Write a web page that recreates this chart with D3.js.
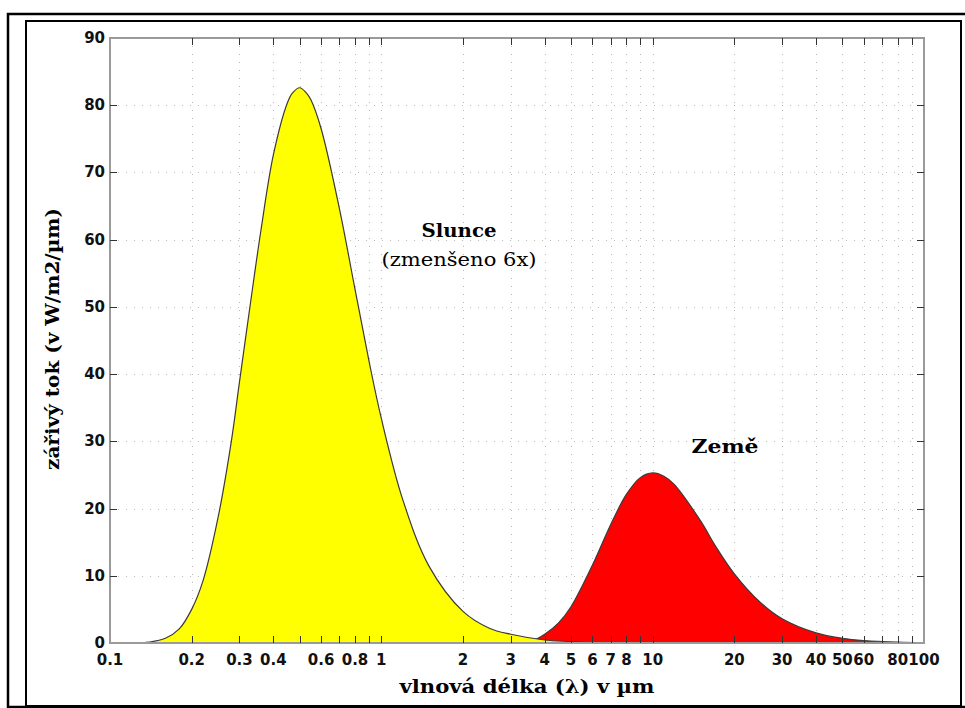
<!DOCTYPE html>
<html>
<head>
<meta charset="utf-8">
<script src="https://cdn.jsdelivr.net/npm/d3@7"></script>
<style>
body { margin: 0; background: #fff; }
svg { display: block; }
</style>
</head>
<body>
<div id="chart"></div>
<script>
// values (flux in W/m2/um, sun already divided by 6)
var sunWavelength = [0.12, 0.14, 0.16, 0.18, 0.2, 0.22, 0.25, 0.28, 0.3, 0.33, 0.36, 0.4, 0.45, 0.47, 0.5, 0.53, 0.55, 0.6, 0.7, 0.8, 0.9, 1.0, 1.2, 1.5, 2, 2.5, 3, 4, 5, 6];
var sunFlux = [0, 0.15, 0.7, 2.1, 5.0, 9.2, 18.6, 30, 38.8, 50.8, 61.4, 72.6, 80.3, 81.8, 82.6, 81.8, 80.8, 76.5, 64.7, 52.6, 42, 33.4, 21.3, 11.4, 4.7, 2.2, 1.3, 0.45, 0.2, 0];
var earthWavelength = [3.3, 3.6, 4, 4.5, 5, 6, 7, 8, 9, 10, 11, 12, 15, 17, 20, 25, 30, 40, 50, 60, 80, 100];
var earthFlux = [0, 0.3, 1.3, 3.0, 5.4, 11.6, 17.6, 22.1, 24.6, 25.3, 24.8, 23.6, 18.2, 14.5, 10.3, 6.0, 3.6, 1.5, 0.7, 0.37, 0.13, 0.05];

var xTicks = [0.1, 0.2, 0.3, 0.4, 0.5, 0.6, 0.7, 0.8, 0.9, 1, 2, 3, 4, 5, 6, 7, 8, 9, 10, 20, 30, 40, 50, 60, 70, 80, 90, 100];
var xTickLabels = ["0.1", "0.2", "0.3", "0.4", "", "0.6", "", "0.8", "", "1", "2", "3", "4", "5", "6", "7", "8", "", "10", "20", "30", "40", "50", "60", "", "80", "", "100"];
var yTicks = [0, 10, 20, 30, 40, 50, 60, 70, 80, 90];

var width = 965, height = 708;
var svg = d3.select("#chart").append("svg").attr("width", width).attr("height", height);

var x = d3.scaleLog().domain([0.1, 100]).range([110, 924]);
var y = d3.scaleLinear().domain([0, 90]).range([643, 38]);

// double frame round the figure
svg.append("rect").attr("x", 8).attr("y", 14).attr("width", 975).attr("height", 693)
    .attr("fill", "none").attr("stroke", "#000").attr("stroke-width", 2.5);
svg.append("rect").attr("x", 26).attr("y", 21).attr("width", 935).attr("height", 685)
    .attr("fill", "none").attr("stroke", "#000").attr("stroke-width", 2);

// dotted grid
var grid = svg.append("g").attr("stroke", "#b8b8b8").attr("stroke-width", 1).attr("stroke-dasharray", "1,7");
grid.selectAll(".gx").data(xTicks.slice(1, -1)).enter().append("line")
    .attr("x1", function(d){ return Math.round(x(d)) + 0.5; })
    .attr("x2", function(d){ return Math.round(x(d)) + 0.5; })
    .attr("y1", y(90)).attr("y2", y(0));
grid.selectAll(".gy").data(yTicks.slice(1, -1)).enter().append("line")
    .attr("y1", function(d){ return Math.round(y(d)) + 0.5; })
    .attr("y2", function(d){ return Math.round(y(d)) + 0.5; })
    .attr("x1", x(0.1)).attr("x2", x(100));

var sunData = d3.zip(sunWavelength, sunFlux);
var earthData = d3.zip(earthWavelength, earthFlux);

var area = d3.area()
    .x(function(d){ return x(d[0]); })
    .y0(y(0))
    .y1(function(d){ return Math.min(y(0), y(d[1])); })
    .curve(d3.curveCatmullRom.alpha(0.5));
var line = d3.line()
    .x(function(d){ return x(d[0]); })
    .y(function(d){ return Math.min(y(0), y(d[1])); })
    .curve(d3.curveCatmullRom.alpha(0.5));

svg.append("path").datum(earthData).attr("d", area).attr("fill", "#ff0000");
svg.append("path").datum(earthData).attr("d", line).attr("fill", "none").attr("stroke", "#3a3a3a").attr("stroke-width", 1.2);
svg.append("path").datum(sunData).attr("d", area).attr("fill", "#ffff00");
svg.append("path").datum(sunData).attr("d", line).attr("fill", "none").attr("stroke", "#3a3a3a").attr("stroke-width", 1.2);

// axes box
svg.append("rect").attr("x", x(0.1)).attr("y", y(90))
    .attr("width", x(100) - x(0.1)).attr("height", y(0) - y(90))
    .attr("fill", "none").attr("stroke", "#9a9a9a").attr("stroke-width", 2);

// inward ticks on all four sides
var ticks = svg.append("g").attr("stroke", "#333").attr("stroke-width", 1);
xTicks.slice(1, -1).forEach(function(d){
  var px = Math.round(x(d)) + 0.5;
  ticks.append("line").attr("x1", px).attr("x2", px).attr("y1", y(0)).attr("y2", y(0) - 7);
  ticks.append("line").attr("x1", px).attr("x2", px).attr("y1", y(90)).attr("y2", y(90) + 7);
});
yTicks.slice(1, -1).forEach(function(d){
  var py = Math.round(y(d)) + 0.5;
  ticks.append("line").attr("y1", py).attr("y2", py).attr("x1", x(0.1)).attr("x2", x(0.1) + 7);
  ticks.append("line").attr("y1", py).attr("y2", py).attr("x1", x(100)).attr("x2", x(100) - 7);
});

// tick labels
svg.append("g").selectAll("text").data(xTicks).enter().append("text")
    .attr("x", function(d){ return x(d); })
    .attr("y", 665)
    .attr("text-anchor", "middle")
    .attr("font-family", "DejaVu Sans")
    .attr("font-weight", "bold")
    .attr("font-size", 15)
    .attr("fill", "#111")
    .text(function(d, i){ return xTickLabels[i]; });
svg.append("g").selectAll("text").data(yTicks).enter().append("text")
    .attr("x", 105)
    .attr("y", function(d){ return y(d) + 5; })
    .attr("text-anchor", "end")
    .attr("font-family", "DejaVu Sans")
    .attr("font-weight", "bold")
    .attr("font-size", 15)
    .attr("fill", "#111")
    .text(function(d){ return d; });

// axis titles
svg.append("text").attr("x", 527).attr("y", 693)
    .attr("text-anchor", "middle")
    .attr("font-family", "DejaVu Serif").attr("font-weight", "bold").attr("font-size", 18)
    .attr("textLength", 255).attr("lengthAdjust", "spacingAndGlyphs")
    .text("vlnová délka (λ) v µm");
svg.append("text").attr("transform", "translate(59,339) rotate(-90)")
    .attr("text-anchor", "middle")
    .attr("font-family", "DejaVu Serif").attr("font-weight", "bold").attr("font-size", 18)
    .attr("textLength", 262).attr("lengthAdjust", "spacingAndGlyphs")
    .text("zářivý tok (v W/m2/µm)");

// curve labels
svg.append("text").attr("x", 459).attr("y", 237)
    .attr("text-anchor", "middle")
    .attr("font-family", "DejaVu Serif").attr("font-weight", "bold").attr("font-size", 19)
    .attr("textLength", 75).attr("lengthAdjust", "spacingAndGlyphs")
    .text("Slunce");
svg.append("text").attr("x", 459).attr("y", 266)
    .attr("text-anchor", "middle")
    .attr("font-family", "DejaVu Serif").attr("font-size", 18)
    .attr("textLength", 155).attr("lengthAdjust", "spacingAndGlyphs")
    .text("(zmenšeno 6x)");
svg.append("text").attr("x", 725).attr("y", 453)
    .attr("text-anchor", "middle")
    .attr("font-family", "DejaVu Serif").attr("font-weight", "bold").attr("font-size", 19)
    .attr("textLength", 67).attr("lengthAdjust", "spacingAndGlyphs")
    .text("Země");
</script>
</body>
</html>
